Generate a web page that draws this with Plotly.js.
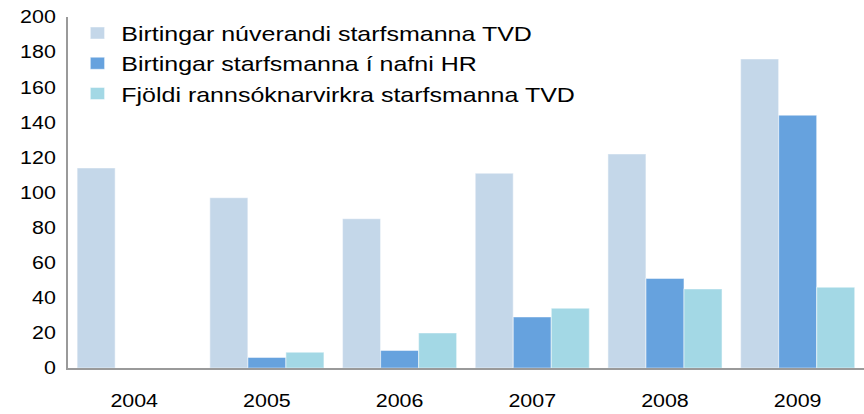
<!DOCTYPE html>
<html>
<head>
<meta charset="utf-8">
<script src="https://cdn.plot.ly/plotly-3.0.1.min.js"></script>
<style>
html,body{margin:0;padding:0;background:#fff;overflow:hidden}
#chart{width:726px;height:414px;transform:scaleX(1.1901);transform-origin:0 0}
</style>
</head>
<body>
<div id="chart"></div>
<script>
const years = ["2004", "2005", "2006", "2007", "2008", "2009"];
const seriesNames = [
  "Birtingar núverandi starfsmanna TVD",
  "Birtingar starfsmanna í nafni HR",
  "Fjöldi rannsóknarvirkra starfsmanna TVD"
];
const currentStaff = [114, 97, 85, 111, 122, 176];
const hrStaff = [0, 6, 10, 29, 51, 144];
const researchActive = [0, 9, 20, 34, 45, 46];
const yTicks = [0, 20, 40, 60, 80, 100, 120, 140, 160, 180, 200];

const colors = ["#C4D7E9", "#66A2DE", "#A3D8E5"];
const values = [currentStaff, hrStaff, researchActive];

const traces = values.map((v, i) => ({
  type: "bar",
  name: seriesNames[i],
  x: years,
  y: v,
  marker: {color: colors[i], line: {color: "rgba(255,255,255,0.45)", width: 1}},
  hoverinfo: "skip"
}));

const layout = {
  width: 726,
  height: 414,
  margin: {l: 57, r: 0, t: 17, b: 46},
  paper_bgcolor: "#ffffff",
  plot_bgcolor: "#ffffff",
  font: {family: "Liberation Sans, Arial, sans-serif", color: "#000000", size: 18},
  barmode: "group",
  bargap: 0.14,
  bargroupgap: 0,
  showlegend: true,
  legend: {
    x: 0.0073, y: 1.012, xanchor: "left", yanchor: "top",
    font: {size: 21, color: "#000000"},
    bgcolor: "rgba(0,0,0,0)",
    tracegroupgap: 0
  },
  xaxis: {
    type: "category",
    showline: true, linecolor: "#9A9A9A", linewidth: 2,
    showgrid: false, zeroline: false,
    ticks: "outside", ticklen: 15, tickcolor: "rgba(0,0,0,0)",
    tickfont: {size: 18}
  },
  yaxis: {
    range: [0, 200],
    tickvals: yTicks,
    ticktext: yTicks.map(String),
    showline: true, linecolor: "#9A9A9A", linewidth: 1.5,
    showgrid: false, zeroline: false,
    ticks: "outside", ticklen: 5, tickcolor: "rgba(0,0,0,0)",
    tickfont: {size: 18}
  }
};

Plotly.newPlot("chart", traces, layout, {staticPlot: true, displayModeBar: false});
</script>
</body>
</html>
